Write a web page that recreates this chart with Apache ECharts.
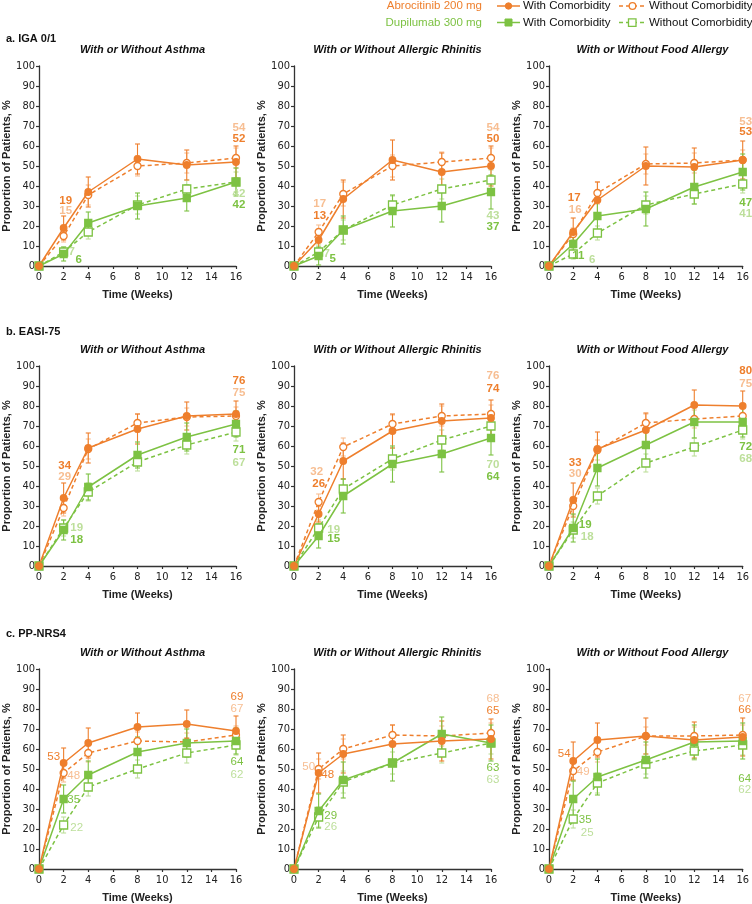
<!DOCTYPE html>
<html><head><meta charset="utf-8">
<script src="https://cdn.jsdelivr.net/npm/echarts@6/dist/echarts.min.js"></script>
<style>html,body{margin:0;padding:0;background:#fff}#c{width:752px;height:904px}</style>
</head><body><div id="c"></div>
<script>
// ---------------- DATA ----------------
const weeks = [0, 2, 4, 8, 12, 16];
const xTicks = [0, 2, 4, 6, 8, 10, 12, 14, 16];
const yTicks = [0, 10, 20, 30, 40, 50, 60, 70, 80, 90, 100];
const sectionLabels = ['a. IGA 0/1', 'b. EASI-75', 'c. PP-NRS4'];
const panelTitles = ['With or Without Asthma', 'With or Without Allergic Rhinitis', 'With or Without Food Allergy'];
const drugNames = ['Abrocitinib 200 mg', 'Dupilumab 300 mg'];
const groupNames = ['With Comorbidity', 'Without Comorbidity'];
// series order in each panel: [Abro with, Abro without, Dupi with, Dupi without]
const igaAsthma    = [[0,19,37,53.5,50.5,52],[0,15,35.5,50,51.5,54],[0,6,21.5,30,34,42],[0,7,17,30.5,38.5,42]];
const igaAsthmaCI  = [[0,6,7.5,7.5,7.5,8],[0,3,5,5,5,5],[0,3.5,5.5,6.5,6.5,7],[0,2.5,3.5,4.5,4.5,5]];
const igaRhinitis   = [[0,13,33.5,53,47,50],[0,17,36,50,52,54],[0,5,18,27.5,30,37],[0,7,18,30.5,38.5,43]];
const igaRhinitisCI = [[0,4.5,9.5,10,9.5,10],[0,3.5,6,5.5,5,5],[0,4.5,7,8,8,8.5],[0,3.5,5,4.5,5,5]];
const igaFood   = [[0,17,33,50,49.5,53],[0,16,36.5,51,51.5,53],[0,11,25,28.5,39.5,47],[0,6,16.5,30.5,36,41]];
const igaFoodCI = [[0,7,9,9.5,9.5,9.5],[0,3,5.5,5,5,5],[0,6,9,8.5,8.5,9],[0,2.5,3.5,4.5,5,4.5]];
const easiAsthma   = [[0,34,59,68.5,75,76],[0,29,58.5,71.5,74.5,75],[0,18,39.5,55.5,64.5,71],[0,19,37,52,60.5,67]];
const easiAsthmaCI = [[0,7.5,7.5,7.5,7,6.5],[0,4,5,4.5,4.5,4.5],[0,5,6.5,6.5,7,6.5],[0,4,4.5,4.5,4.5,4.5]];
const easiRhinitis   = [[0,26,52.5,67.5,72.5,74],[0,32,59.5,71,75,76],[0,15,35,51,56,64],[0,19,38.5,53.5,63,70]];
const easiRhinitisCI = [[0,4,9,8.5,8.5,9],[0,4,4.5,4.5,5,4.5],[0,6,8.5,9,9,8.5],[0,4,5,5.5,5,5]];
const easiFood   = [[0,33,58.5,68,80.5,80],[0,30,58,71.5,73.5,75],[0,19,49,60.5,72,72],[0,18,35,51.5,59.5,68]];
const easiFoodCI = [[0,8.5,8.5,8.5,7.5,7.5],[0,4.5,5,4.5,4.5,4.5],[0,7,9,8.5,8,7.5],[0,4,4,4.5,4.5,4.5]];
const nrsAsthma   = [[0,53,63,71,72.5,69],[0,48,58,64,63.5,67],[0,35,47,58.5,63,64],[0,22,41,50,58,62]];
const nrsAsthmaCI = [[0,7.5,7.5,7,7,7.5],[0,4.5,4.5,4.5,4.5,4.5],[0,7,7,7.5,7,6.5],[0,4,4.5,4.5,5,5]];
const nrsRhinitis   = [[0,48,57.5,62.5,64,65],[0,50,60,67,66.5,68],[0,29,44.5,53,67.5,63],[0,26,43.5,53,58,63]];
const nrsRhinitisCI = [[0,10,9.5,9.5,10,10],[0,5,5,5,5,5],[0,8.5,9,9,8.5,9],[0,5,5.5,5.5,5,5.5]];
const nrsFood   = [[0,54,64.5,66.5,64.5,66],[0,49,58.5,66.5,66.5,67],[0,35,46,54.5,63.5,64],[0,25,43,52.5,59,62]];
const nrsFoodCI = [[0,9.5,8.5,9,9,9.5],[0,5,5,4.5,4.5,5],[0,9,9,9,8.5,9],[0,4.5,5,5,4.5,5]];

// ---------------- LAYOUT (positions / styles) ----------------
const labelOffsets = [ // per panel, per series: [week2 offset, week16 offset] in px
  [[[2,-27],[3,-23]],[[2,-25],[3,-30]],[[15,6],[3,23]],[[8,0],[3,12]]],
  [[[1,-24],[2,-27]],[[1,-28],[2,-30]],[[14,3],[2,35]],[[8,2],[2,36]]],
  [[[1,-34],[3,-28]],[[2,-24],[3,-38]],[[5,12],[3,31]],[[19,6],[3,30]]],
  [[[1,-32],[3,-33]],[[1,-31],[3,-23]],[[13,10],[3,26]],[[13,0],[3,31]]],
  [[[0,-30],[2,-29]],[[-2,-30],[2,-38]],[[15,3],[2,39]],[[15,2],[2,39]]],
  [[[2,-37],[3,-35]],[[2,-32],[3,-32]],[[12,-3],[3,25]],[[14,7],[3,29]]],
  [[[-10,-6],[1,-34]],[[10,3],[1,-26]],[[10,1],[1,21]],[[13,3],[1,30]]],
  [[[9,2],[2,-28]],[[-10,-2],[2,-34]],[[12,5],[2,25]],[[12,10],[2,37]]],
  [[[-9,-7],[2,-27]],[[10,1],[2,-36]],[[12,21],[2,38]],[[14,14],[2,45]]]
];
const panels = [
  [igaAsthma, igaAsthmaCI], [igaRhinitis, igaRhinitisCI], [igaFood, igaFoodCI],
  [easiAsthma, easiAsthmaCI], [easiRhinitis, easiRhinitisCI], [easiFood, easiFoodCI],
  [nrsAsthma, nrsAsthmaCI], [nrsRhinitis, nrsRhinitisCI], [nrsFood, nrsFoodCI]
];
const colLeft = [39, 294, 549], colWidth = 197;
const rowTop = [66, 366, 669], rowHeight = 200;
const FONT = "'Liberation Sans', Arial, Helvetica, sans-serif";
const NARROW = "'Liberation Sans Narrow', 'Arial Narrow', 'DejaVu Sans Condensed', 'Liberation Sans', Arial, sans-serif";
const C = {abro:'#EE7F2D', abroL:'#F7BE92', dupi:'#7DC243', dupiL:'#BDDF9B', axis:'#333333', text:'#222222'};
const sty = [
  {line:C.abro, bar:C.abro,  label:C.abro,  symbol:'circle', size:6.5, fill:C.abro, dash:'solid'},
  {line:C.abro, bar:C.abroL, label:C.abroL, symbol:'circle', size:7,   fill:'#fff', dash:[4,3]},
  {line:C.dupi, bar:C.dupi,  label:C.dupi,  symbol:'rect',   size:7,   fill:C.dupi, dash:'solid'},
  {line:C.dupi, bar:C.dupiL, label:C.dupiL, symbol:'rect',   size:8,   fill:'#fff', dash:[4,3]}
];

function errRender(params, api) {
  const x = api.value(0), lo = api.value(1), hi = api.value(2);
  const p1 = api.coord([x, lo]), p2 = api.coord([x, hi]);
  const w = 2.5;
  const style = {stroke: api.visual('color'), lineWidth: 1.1, fill: null};
  return {type: 'group', children: [
    {type: 'line', shape: {x1: p1[0], y1: p1[1], x2: p2[0], y2: p2[1]}, style},
    {type: 'line', shape: {x1: p1[0]-w, y1: p1[1], x2: p1[0]+w, y2: p1[1]}, style},
    {type: 'line', shape: {x1: p2[0]-w, y1: p2[1], x2: p2[0]+w, y2: p2[1]}, style}
  ]};
}

const grid = [], xAxis = [], yAxis = [], series = [], title = [];
panels.forEach(([vals, cis], gi) => {
  const row = Math.floor(gi / 3), col = gi % 3;
  grid.push({left: colLeft[col], top: rowTop[row], width: colWidth, height: rowHeight, containLabel: false});
  xAxis.push({
    gridIndex: gi, type: 'value', min: xTicks[0], max: xTicks[xTicks.length-1], interval: xTicks[1]-xTicks[0],
    name: 'Time (Weeks)', nameLocation: 'middle', nameGap: 23,
    nameTextStyle: {fontFamily: FONT, fontSize: 11, fontWeight: 'bold', color: C.text},
    axisLine: {show: true, lineStyle: {color: C.axis, width: 1.3}},
    axisTick: {show: true, length: 3, lineStyle: {color: C.axis, width: 1.2}},
    axisLabel: {fontFamily: NARROW, fontSize: 11, color: C.text, margin: 6},
    splitLine: {show: false}
  });
  yAxis.push({
    gridIndex: gi, type: 'value', min: yTicks[0], max: yTicks[yTicks.length-1], interval: yTicks[1]-yTicks[0],
    name: 'Proportion of Patients, %', nameLocation: 'middle', nameGap: 25,
    nameTextStyle: {fontFamily: FONT, fontSize: 11, fontWeight: 'bold', color: C.text},
    axisLine: {show: true, lineStyle: {color: C.axis, width: 1.3}},
    axisTick: {show: true, length: 3, lineStyle: {color: C.axis, width: 1.2}},
    axisLabel: {fontFamily: NARROW, fontSize: 11, color: C.text, margin: 4},
    splitLine: {show: false}
  });
  title.push({
    text: panelTitles[col], left: colLeft[col] + colWidth/2, top: rowTop[row] - 27, textAlign: 'center',
    textStyle: {fontFamily: FONT, fontSize: 11, fontWeight: 'bold', fontStyle: 'italic', color: '#111'}
  });
  // error bars
  [1, 3, 0, 2].forEach(s => {
    const data = [];
    weeks.forEach((w, i) => { if (cis[s][i] > 0) data.push([w, vals[s][i] - cis[s][i], vals[s][i] + cis[s][i]]); });
    series.push({
      type: 'custom', xAxisIndex: gi, yAxisIndex: gi, renderItem: errRender, data,
      encode: {x: 0, y: [1, 2]}, itemStyle: {color: sty[s].bar}, z: s % 2 === 1 ? 2 : 3, silent: true, clip: false
    });
  });
  // lines
  [3, 1, 2, 0].forEach(s => {
    const st = sty[s];
    const data = weeks.map((w, i) => {
      const item = {value: [w, vals[s][i]]};
      if (i === 1 || i === weeks.length - 1) {
        item.label = {show: true, offset: labelOffsets[gi][s][i === 1 ? 0 : 1]};
      }
      return item;
    });
    series.push({
      type: 'line', name: drugNames[s < 2 ? 0 : 1] + ' ' + groupNames[s % 2],
      xAxisIndex: gi, yAxisIndex: gi, data, clip: false, z: s % 2 === 1 ? 4 : 5,
      symbol: st.symbol, symbolSize: st.size, showAllSymbol: true,
      lineStyle: {color: st.line, width: 1.5, type: st.dash},
      itemStyle: {color: st.fill, borderColor: st.line, borderWidth: 1.3},
      label: {show: false, position: 'inside', align: 'center', verticalAlign: 'middle',
        formatter: p => String(Math.round(p.value[1])),
        color: st.label, fontFamily: FONT, fontSize: 11.5, fontWeight: row < 2 ? 'bold' : 'normal'},
      emphasis: {disabled: true}, animation: false
    });
  });
});
sectionLabels.forEach((t, r) => {
  title.push({text: t, left: 1, top: [28, 321, 623][r],
    textStyle: {fontFamily: FONT, fontSize: 11, fontWeight: 'bold', color: '#111'}});
});

// legend as graphic
const LG = [];
[0, 1].forEach(d => {
  const y = d === 0 ? 6 : 22.5;
  const c = d === 0 ? C.abro : C.dupi;
  LG.push({type: 'text', x: 482, y, style: {text: drugNames[d], fill: c, font: '11.5px ' + FONT, align: 'right', verticalAlign: 'middle'}});
  LG.push({type: 'line', shape: {x1: 497, y1: y, x2: 520, y2: y}, style: {stroke: c, lineWidth: 1.5}});
  if (d === 0) LG.push({type: 'circle', shape: {cx: 508.5, cy: y, r: 3.2}, style: {fill: c, stroke: c}});
  else LG.push({type: 'rect', shape: {x: 505, y: y - 3.5, width: 7, height: 7}, style: {fill: c, stroke: c}});
  LG.push({type: 'text', x: 523, y, style: {text: groupNames[0], fill: '#111', font: '11.5px ' + FONT, align: 'left', verticalAlign: 'middle'}});
  LG.push({type: 'line', shape: {x1: 619, y1: y, x2: 646, y2: y}, style: {stroke: c, lineWidth: 1.5, lineDash: [4, 3]}});
  if (d === 0) LG.push({type: 'circle', shape: {cx: 632.5, cy: y, r: 3.3}, style: {fill: '#fff', stroke: c, lineWidth: 1.3}});
  else LG.push({type: 'rect', shape: {x: 628.5, y: y - 3.7, width: 7.5, height: 7.5}, style: {fill: '#fff', stroke: c, lineWidth: 1.3}});
  LG.push({type: 'text', x: 649, y, style: {text: groupNames[1], fill: '#111', font: '11.5px ' + FONT, align: 'left', verticalAlign: 'middle'}});
});

const chart = echarts.init(document.getElementById('c'), null, {renderer: 'canvas'});
chart.setOption({
  backgroundColor: '#fff', animation: false,
  title, grid, xAxis, yAxis, series,
  graphic: LG
});
</script></body></html>
